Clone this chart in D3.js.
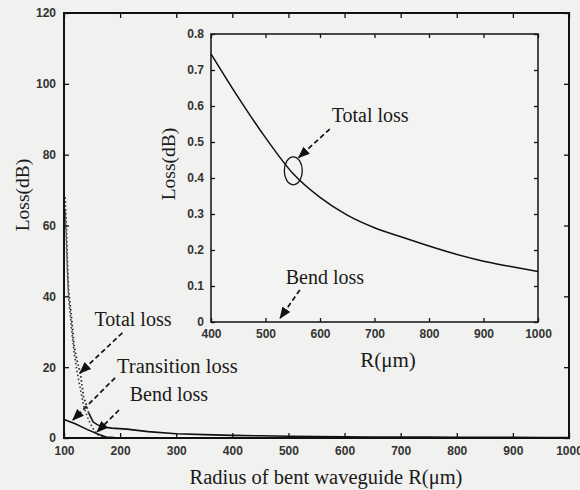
<!DOCTYPE html>
<html>
<head>
<meta charset="utf-8">
<script src="https://cdn.jsdelivr.net/npm/d3@7"></script>
<style>
  body { margin: 0; background: #f1f1ef; }
  svg { display: block; }
  .tick text { font-family: "Liberation Sans", Arial, sans-serif; font-weight: bold; fill: #333; }
  .ttl { font-family: "Liberation Serif", "Times New Roman", serif; fill: #1a1a1a; }
</style>
</head>
<body>
<svg></svg>
<script>
//chart size
const width = 580;
const height = 490;

//main plot data (R in um, loss in dB)
var totalR    = [102, 104, 106, 108, 114, 118, 123, 129, 135, 144, 152, 160, 170, 185, 212, 250, 300, 350, 400, 450, 500, 550, 600, 650, 700, 750, 800, 850, 900, 950, 1000];
var totalLoss = [68, 60, 50, 42, 33, 26, 22, 18.4, 11.6, 7.1, 4.5, 3.7, 3.1, 2.8, 2.5, 1.8, 1.2, 0.95, 0.75, 0.62, 0.51, 0.41, 0.35, 0.30, 0.26, 0.235, 0.21, 0.19, 0.17, 0.155, 0.14];
var transR    = [102, 104, 106, 108, 114, 118, 123, 129, 135, 144, 152, 160, 170, 180];
var transLoss = [64, 56, 47, 40, 30, 24, 19, 14, 9, 5, 2.6, 1.0, 0.2, 0];
var bendR     = [100, 120, 140, 160, 175, 190, 300, 500, 1000];
var bendLoss  = [5.2, 4.0, 2.5, 1.1, 0.3, 0.1, 0.06, 0.04, 0.02];

//inset data
var insetR    = [400, 450, 500, 550, 600, 650, 700, 750, 800, 850, 900, 950, 1000];
var insetLoss = [0.745, 0.624, 0.512, 0.413, 0.346, 0.297, 0.262, 0.236, 0.211, 0.188, 0.169, 0.154, 0.14];

//ticks
var mainXTicks = [100, 200, 300, 400, 500, 600, 700, 800, 900, 1000];
var mainYTicks = [0, 20, 40, 60, 80, 100, 120];
var insetXTicks = [400, 500, 600, 700, 800, 900, 1000];
var insetYTicks = [0, 0.1, 0.2, 0.3, 0.4, 0.5, 0.6, 0.7, 0.8];

var svg = d3.select('svg').attr('width', width).attr('height', height);

//main plot box
var m = {left: 64, right: 569, top: 13, bottom: 438};
var x = d3.scaleLinear().domain([100, 1000]).range([m.left, m.right]);
var y = d3.scaleLinear().domain([0, 120]).range([m.bottom, m.top]);

//inset box
var b = {left: 211, right: 538, top: 34, bottom: 322};
var xi = d3.scaleLinear().domain([400, 1000]).range([b.left, b.right]);
var yi = d3.scaleLinear().domain([0, 0.8]).range([b.bottom, b.top]);

function drawAxes(g, xs, ys, xt, yt, tlen, lw, fs, fmtY) {
    var box = g.append('g');
    box.append('g').attr('transform', 'translate(0,' + ys.range()[0] + ')')
       .call(d3.axisBottom(xs).tickValues(xt).tickSize(-tlen).tickPadding(tlen + 3).tickFormat(d3.format('d')));
    box.append('g').attr('transform', 'translate(' + xs.range()[0] + ',0)')
       .call(d3.axisLeft(ys).tickValues(yt).tickSize(-tlen).tickPadding(tlen + 3).tickFormat(fmtY));
    box.append('g').attr('transform', 'translate(0,' + ys.range()[1] + ')')
       .call(d3.axisTop(xs).tickValues(xt).tickSize(-tlen).tickFormat(''));
    box.append('g').attr('transform', 'translate(' + xs.range()[1] + ',0)')
       .call(d3.axisRight(ys).tickValues(yt).tickSize(-tlen).tickFormat(''));
    box.selectAll('.domain').remove();
    box.selectAll('.tick line').attr('stroke', '#111').attr('stroke-width', 1.3);
    box.selectAll('.tick text').style('font-size', fs + 'px');
    g.append('rect')
     .attr('x', xs.range()[0]).attr('y', ys.range()[1])
     .attr('width', xs.range()[1] - xs.range()[0])
     .attr('height', ys.range()[0] - ys.range()[1])
     .attr('fill', 'none').attr('stroke', '#111').attr('stroke-width', lw);
}

//arrow head
svg.append('defs').append('marker')
   .attr('id', 'ah').attr('viewBox', '0 0 10 10').attr('refX', 9).attr('refY', 5)
   .attr('markerWidth', 7).attr('markerHeight', 7).attr('orient', 'auto')
   .append('path').attr('d', 'M0,1 L10,5 L0,9 Z').attr('fill', '#111');

function arrow(g, x1, y1, x2, y2) {
    g.append('line')
     .attr('x1', x1).attr('y1', y1).attr('x2', x2).attr('y2', y2)
     .attr('stroke', '#111').attr('stroke-width', 1.7)
     .attr('stroke-dasharray', '5,3')
     .attr('marker-end', 'url(#ah)');
}

function label(g, tx, ty, txt, fs) {
    g.append('text').attr('class', 'ttl').attr('x', tx).attr('y', ty + fs * 0.33)
     .attr('text-anchor', 'middle').style('font-size', fs + 'px').text(txt);
}

var main = svg.append('g');

//main curves
var line = d3.line().x(d => x(d[0])).y(d => y(d[1]));
var totalPts = totalR.map((r, i) => [r, totalLoss[i]]);
main.append('path').attr('d', line(totalPts.filter(d => d[0] <= 145)))
    .attr('fill', 'none').attr('stroke', '#222').attr('stroke-width', 1.8).attr('stroke-dasharray', '1.5,2.5');
main.append('path').attr('d', line(totalPts.filter(d => d[0] >= 144)))
    .attr('fill', 'none').attr('stroke', '#111').attr('stroke-width', 1.6);
main.append('path').attr('d', line(transR.map((r, i) => [r, transLoss[i]])))
    .attr('fill', 'none').attr('stroke', '#333').attr('stroke-width', 1.6).attr('stroke-dasharray', '1.5,2.5');
main.append('path').attr('d', line(bendR.map((r, i) => [r, bendLoss[i]])))
    .attr('fill', 'none').attr('stroke', '#111').attr('stroke-width', 1.6);

drawAxes(main, x, y, mainXTicks, mainYTicks, 5, 2, 12, d3.format('d'));

//main titles
main.append('text').attr('class', 'ttl').attr('x', 326).attr('y', 484)
    .attr('text-anchor', 'middle').style('font-size', '20.5px').text('Radius of bent waveguide R(μm)');
main.append('text').attr('class', 'ttl')
    .attr('transform', 'translate(29,195) rotate(-90)')
    .attr('text-anchor', 'middle').style('font-size', '19.5px').text('Loss(dB)');

//main annotations
label(main, x(223), y(33.6), 'Total loss', 20);
arrow(main, x(204), y(29.7), x(128.6), y(18.4));
label(main, x(302), y(20.3), 'Transition loss', 20.5);
arrow(main, x(191), y(17), x(116), y(5.1));
label(main, x(287), y(12.4), 'Bend loss', 20);
arrow(main, x(198), y(7.9), x(159), y(1.7));

//inset
var inset = svg.append('g');
inset.append('rect').attr('x', b.left).attr('y', b.top)
     .attr('width', b.right - b.left).attr('height', b.bottom - b.top).attr('fill', '#f3f3f1');
var iline = d3.line().curve(d3.curveMonotoneX).x(d => xi(d[0])).y(d => yi(d[1]));
inset.append('path').attr('d', iline(insetR.map((r, i) => [r, insetLoss[i]])))
     .attr('fill', 'none').attr('stroke', '#111').attr('stroke-width', 1.5);
drawAxes(inset, xi, yi, insetXTicks, insetYTicks, 4, 1.5, 12, d => d === 0 ? '0' : d3.format('.1f')(d));

inset.append('text').attr('class', 'ttl').attr('x', 388).attr('y', 367)
     .attr('text-anchor', 'middle').style('font-size', '21px').text('R(μm)');
inset.append('text').attr('class', 'ttl')
     .attr('transform', 'translate(175,164) rotate(-90)')
     .attr('text-anchor', 'middle').style('font-size', '19.5px').text('Loss(dB)');

//inset annotations
inset.append('ellipse').attr('cx', xi(551)).attr('cy', yi(0.42)).attr('rx', 9).attr('ry', 14)
     .attr('fill', 'none').attr('stroke', '#111').attr('stroke-width', 1.3);
label(inset, xi(692), yi(0.575), 'Total loss', 20);
arrow(inset, xi(618), yi(0.536), xi(561), yi(0.457));
label(inset, xi(609), yi(0.125), 'Bend loss', 20);
arrow(inset, xi(563), yi(0.089), xi(527), yi(0.011));
</script>
</body>
</html>
